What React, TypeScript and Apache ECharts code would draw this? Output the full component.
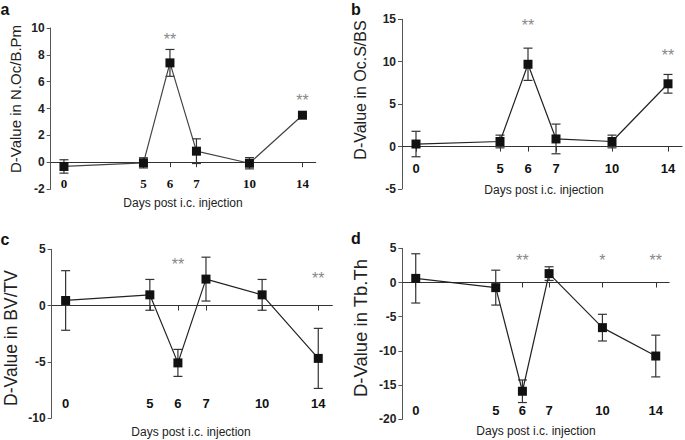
import React, { useEffect, useRef } from "react";
import * as echarts from "echarts";

// Tick labels of the (unevenly spaced) day axis; empty strings are unlabeled slots
const axisSlots = ["0", "", "", "5", "6", "7", "", "10", "", "14"];
const days = ["0", "5", "6", "7", "10", "14"];

const aMean = [-0.32, -0.05, 7.4, 0.82, -0.08, 3.5];
const aErr = [0.5, 0.38, 1.0, 0.92, 0.42, 0.1];
const bMean = [0.3, 0.6, 9.7, 0.9, 0.6, 7.4];
const bErr = [1.5, 0.75, 1.9, 1.75, 0.75, 1.1];
const cMean = [0.45, 0.95, -5.1, 2.35, 0.95, -4.7];
const cErr = [2.65, 1.37, 1.2, 1.95, 1.37, 2.67];
const dMean = [0.6, -0.75, -15.9, 1.3, -6.6, -10.75];
const dErr = [3.6, 2.55, 1.65, 1.0, 1.95, 3.05];

const aStarDays = ["6", "14"];
const aStarMarks = ["**", "**"];
const aStarY = [9.4, 4.8];
const bStarDays = ["6", "14"];
const bStarMarks = ["**", "**"];
const bStarY = [14.6, 11.1];
const cStarDays = ["6", "14"];
const cStarMarks = ["**", "**"];
const cStarY = [3.9, 2.64];
const dStarDays = ["6", "10", "14"];
const dStarMarks = ["**", "*", "**"];
const dStarY = [3.6, 3.6, 3.6];

const yNames = ["D-Value in N.Oc/B.Pm", "D-Value in Oc.S/BS", "D-Value in BV/TV", "D-Value in Tb.Th"];
const xName = "Days post i.c. injection";
const panelLetters = ["a", "b", "c", "d"];

const SANS = "'Liberation Sans', Arial, sans-serif";
const SERIF = "'Liberation Serif', 'Times New Roman', serif";

export default function App() {
  const ref = useRef<HTMLDivElement>(null);
  useEffect(() => {
    if (!ref.current) return;
    const chart = echarts.init(ref.current, null, { renderer: "svg" });

    const panels = [
      { mean: aMean, err: aErr, sd: aStarDays, sm: aStarMarks, sy: aStarY, min: -2, max: 10, interval: 2,
        grid: { left: 50.7, top: 28, width: 265, height: 161 }, labMargin: 6, labFont: SERIF, labSize: 13,
        yNamePos: [15, 99], yNameSize: 15, xNamePos: [183, 203], letterPos: [5, 9], lineColor: "#444" },
      { mean: bMean, err: bErr, sd: bStarDays, sm: bStarMarks, sy: bStarY, min: -5, max: 15, interval: 5,
        grid: { left: 402, top: 19.3, width: 280, height: 169.7 }, labMargin: 21, labFont: SANS, labSize: 13,
        yNamePos: [360, 90], yNameSize: 16, xNamePos: [544, 190], letterPos: [356, 9], lineColor: "#222" },
      { mean: cMean, err: cErr, sd: cStarDays, sm: cStarMarks, sy: cStarY, min: -10, max: 5, interval: 5,
        grid: { left: 51.6, top: 249.3, width: 280.7, height: 168.7 }, labMargin: 15, labFont: SANS, labSize: 13,
        yNamePos: [11, 338], yNameSize: 17.5, xNamePos: [191, 432], letterPos: [5, 239], lineColor: "#222" },
      { mean: dMean, err: dErr, sd: dStarDays, sm: dStarMarks, sy: dStarY, min: -20, max: 5, interval: 5,
        grid: { left: 402.4, top: 248.3, width: 266.7, height: 171 }, labMargin: 9, labFont: SANS, labSize: 13,
        yNamePos: [360, 328], yNameSize: 18.5, xNamePos: [536, 431], letterPos: [356, 238], lineColor: "#222" },
    ];

    const grids: any[] = [];
    const xAxes: any[] = [];
    const yAxes: any[] = [];
    const series: any[] = [];
    const graphics: any[] = [];

    panels.forEach((p, i) => {
      grids.push({ ...p.grid, containLabel: false });
      // zero line axis with ticks
      xAxes.push({
        type: "category", gridIndex: i, data: axisSlots, position: "bottom", boundaryGap: true,
        axisLine: { show: true, onZero: true, lineStyle: { color: "#333", width: 1.2 } },
        axisTick: { show: true, alignWithLabel: true, length: 5, interval: (_idx: number, v: string) => v !== "", lineStyle: { color: "#333" } },
        axisLabel: { show: false },
        splitLine: { show: false },
      });
      // label axis at bottom
      xAxes.push({
        type: "category", gridIndex: i, data: axisSlots, position: "bottom", boundaryGap: true,
        axisLine: { show: false, onZero: false },
        axisTick: { show: false },
        axisLabel: { show: true, inside: true, interval: 0, margin: p.labMargin, verticalAlign: "middle",
          fontFamily: p.labFont, fontWeight: "bold", fontSize: p.labSize, color: "#111" },
        splitLine: { show: false },
      });
      yAxes.push({
        type: "value", gridIndex: i, min: p.min, max: p.max, interval: p.interval,
        axisLine: { show: true, lineStyle: { color: "#555", width: 1 } },
        axisTick: { show: true, length: 4, lineStyle: { color: "#555" } },
        axisLabel: { margin: 6, fontFamily: SANS, fontWeight: "bold", fontSize: 12, color: "#222" },
        splitLine: { show: false },
      });
      const idxOf = (d: string) => axisSlots.indexOf(d);
      const errData = days.map((d, k) => [idxOf(d), p.mean[k] - p.err[k], p.mean[k] + p.err[k]]);
      series.push({
        type: "custom", xAxisIndex: 2 * i, yAxisIndex: i, data: errData,
        encode: { x: 0, y: [1, 2] },
        renderItem: (_params: any, api: any) => {
          const x = api.value(0);
          const top = api.coord([x, api.value(2)]);
          const bot = api.coord([x, api.value(1)]);
          const w = 4.5;
          const st = { stroke: "#333", lineWidth: 1.2 };
          return {
            type: "group",
            children: [
              { type: "line", shape: { x1: top[0], y1: top[1], x2: bot[0], y2: bot[1] }, style: st },
              { type: "line", shape: { x1: top[0] - w, y1: top[1], x2: top[0] + w, y2: top[1] }, style: st },
              { type: "line", shape: { x1: bot[0] - w, y1: bot[1], x2: bot[0] + w, y2: bot[1] }, style: st },
            ],
          };
        },
      });
      series.push({
        type: "line", xAxisIndex: 2 * i, yAxisIndex: i,
        data: days.map((d, k) => [idxOf(d), p.mean[k]]),
        symbol: "rect", symbolSize: 9, showSymbol: true,
        itemStyle: { color: "#111" },
        lineStyle: { color: p.lineColor, width: 1.2 },
      });
      series.push({
        type: "custom", xAxisIndex: 2 * i, yAxisIndex: i,
        data: p.sd.map((d, k) => [idxOf(d), p.sy[k], k]),
        encode: { x: 0, y: 1 },
        renderItem: (_params: any, api: any) => {
          const pt = api.coord([api.value(0), api.value(1)]);
          const k = api.value(2);
          return {
            type: "text", x: pt[0], y: pt[1] + 3,
            style: { text: p.sm[k], fill: "#888", font: `16px ${SANS}`, align: "center", verticalAlign: "middle" },
          };
        },
      });
      graphics.push({
        type: "text", x: p.yNamePos[0], y: p.yNamePos[1], rotation: Math.PI / 2,
        style: { text: yNames[i], fill: "#222", font: `${p.yNameSize}px ${SANS}`, align: "center", verticalAlign: "middle" },
      });
      graphics.push({
        type: "text", x: p.xNamePos[0], y: p.xNamePos[1],
        style: { text: xName, fill: "#222", font: `12px ${SANS}`, align: "center", verticalAlign: "middle" },
      });
      graphics.push({
        type: "text", x: p.letterPos[0], y: p.letterPos[1],
        style: { text: panelLetters[i], fill: "#111", font: `bold 16px ${SANS}`, align: "center", verticalAlign: "middle" },
      });
    });

    chart.setOption({
      animation: false,
      backgroundColor: "#fff",
      grid: grids,
      xAxis: xAxes,
      yAxis: yAxes,
      series,
      graphic: graphics,
    });
    return () => chart.dispose();
  }, []);
  return <div ref={ref} style={{ position: "absolute", left: 0, top: 0, width: 685, height: 440 }} />;
}
